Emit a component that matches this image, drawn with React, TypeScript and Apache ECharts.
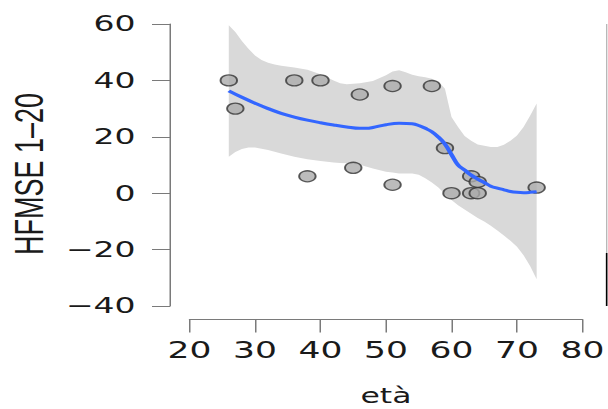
import React, { useEffect, useRef } from "react";
import * as echarts from "echarts";

// observed data
const ages = [26, 27, 36, 38, 40, 45, 46, 51, 51, 57, 59, 60, 63, 63, 64, 64, 73];
const scores = [40, 30, 40, 6, 40, 9, 35, 38, 3, 38, 16, 0, 6, 0, 4, 0, 2];

// smoothed fit (loess)
const fitAge = [26, 28, 30, 32, 34, 36, 38, 40, 42, 44, 46, 47, 48, 50, 52, 54, 55, 56, 57, 58, 59, 60, 61, 62, 63, 64, 65, 66, 67, 68, 69, 70, 71, 72, 73];
const fitValue = [36.3, 34.0, 31.9, 30.0, 28.3, 27.0, 25.9, 25.0, 24.2, 23.5, 23.0, 23.0, 23.3, 24.3, 24.8, 24.6, 24.0, 23.0, 21.8, 19.9, 17.4, 13.7, 10.0, 8.2, 6.4, 5.0, 3.8, 2.5, 1.8, 1.2, 0.6, 0.3, 0.2, 0.3, 0.5];

// confidence band
const bandAge = [26, 27, 28, 29, 30, 31, 32, 33, 34, 36, 38, 40, 42, 43, 44, 46, 48, 50, 51, 52, 53, 54, 55, 56, 57, 58, 59, 59.5, 60, 61, 62, 63, 64, 65, 66, 67, 68, 69, 70, 71, 72, 73];
const bandUpper = [59.6, 57.2, 54.0, 51.2, 48.8, 47.2, 46.3, 45.6, 45.2, 44.6, 43.8, 42.2, 40.0, 39.0, 38.6, 39.0, 39.8, 41.8, 43.2, 43.6, 42.9, 42.0, 41.5, 41.1, 40.6, 39.6, 37.0, 32.0, 27.0, 23.5, 20.3, 18.6, 17.3, 16.8, 16.4, 16.4, 17.2, 18.6, 20.5, 23.5, 27.5, 31.8];
const bandLower = [12.9, 14.6, 15.7, 16.2, 16.2, 15.8, 15.3, 14.7, 14.1, 12.9, 12.0, 11.4, 10.9, 10.7, 10.6, 10.1, 8.8, 7.6, 7.3, 7.0, 7.0, 7.0, 6.5, 5.3, 3.8, 2.0, -0.3, -1.3, -2.4, -4.3, -5.8, -7.3, -8.8, -10.0, -11.5, -13.2, -15.0, -16.9, -19.0, -22.0, -25.8, -30.5];

const xTicks = { min: 20, max: 80, interval: 10 };
const yTicks = { min: -40, max: 60, interval: 20 };

const STRETCH = 1.5;
const W = 608 / STRETCH;
const H = 409;

export default function App() {
  const ref = useRef<HTMLDivElement>(null);
  useEffect(() => {
    if (!ref.current) return;
    const chart = echarts.init(ref.current, null, { renderer: "svg" });
    const axisColor = "#7a7a7a";
    chart.setOption({
      animation: false,
      backgroundColor: "#ffffff",
      grid: {
        left: 126.33,
        right: W - 388.67,
        top: 24,
        bottom: H - 306,
        containLabel: false,
        outerBoundsMode: "none",
      },
      xAxis: {
        type: "value",
        min: xTicks.min,
        max: xTicks.max,
        interval: xTicks.interval,
        offset: 13.5,
        name: "età",
        nameLocation: "middle",
        nameGap: 66,
        nameTextStyle: { fontFamily: "DejaVu Sans", fontSize: 21, color: "#1a1a1a" },
        axisLine: { show: true, onZero: false, lineStyle: { color: axisColor, width: 1 } },
        axisTick: { show: true, length: 13, lineStyle: { color: axisColor, width: 1 } },
        axisLabel: { fontFamily: "DejaVu Sans", fontSize: 23, color: "#1a1a1a", margin: 19 },
        splitLine: { show: false },
      },
      yAxis: {
        type: "value",
        min: yTicks.min,
        max: yTicks.max,
        interval: yTicks.interval,
        offset: 13,
        name: "HFMSE 1–20",
        nameLocation: "middle",
        nameRotate: 90,
        nameGap: 79,
        nameTextStyle: { fontFamily: "Liberation Sans", fontSize: 27, color: "#1a1a1a", padding: [0, 18, 0, 0] },
        axisLine: { show: true, onZero: false, lineStyle: { color: axisColor, width: 1 } },
        axisTick: { show: true, length: 12, lineStyle: { color: axisColor, width: 1 } },
        axisLabel: {
          fontFamily: "DejaVu Sans",
          fontSize: 22,
          color: "#1a1a1a",
          margin: 23,
          formatter: (v: number) => String(v).replace("-", "\u2212"),
        },
        splitLine: { show: false },
      },
      graphic: [
        { type: "line", shape: { x1: 404.6, y1: 24, x2: 404.6, y2: 253 }, style: { stroke: "#9a9a9a", lineWidth: 0.8 } },
        { type: "line", shape: { x1: 404.6, y1: 253, x2: 404.6, y2: 306 }, style: { stroke: "#000000", lineWidth: 1.4 } },
      ],
      series: [
        {
          type: "custom",
          silent: true,
          z: 1,
          data: [[bandAge[0], bandUpper[0]]],
          encode: { x: 0, y: 1 },
          renderItem: (params: any, api: any) => {
            if (params.dataIndex !== 0) return null;
            const pts: number[][] = [];
            for (let i = 0; i < bandAge.length; i++) pts.push(api.coord([bandAge[i], bandUpper[i]]));
            for (let i = bandAge.length - 1; i >= 0; i--) pts.push(api.coord([bandAge[i], bandLower[i]]));
            return { type: "polygon", shape: { points: pts }, style: { fill: "#d9d9d9" } };
          },
        },
        {
          type: "scatter",
          z: 2,
          symbol: "circle",
          symbolSize: 11,
          data: ages.map((a, i) => [a, scores[i]]),
          itemStyle: { color: "#ababab", borderColor: "#333333", borderWidth: 1.3 },
        },
        {
          type: "line",
          z: 3,
          smooth: 0.4,
          symbol: "none",
          data: fitAge.map((a, i) => [a, fitValue[i]]),
          lineStyle: { color: "#3366ff", width: 3 },
        },
      ],
    });
    return () => chart.dispose();
  }, []);
  return (
    <div style={{ position: "fixed", left: 0, top: 0, width: 608, height: 409, overflow: "hidden", background: "#fff" }}>
      <div
        ref={ref}
        style={{ width: W, height: H, transform: `scaleX(${STRETCH})`, transformOrigin: "0 0" }}
      />
    </div>
  );
}
